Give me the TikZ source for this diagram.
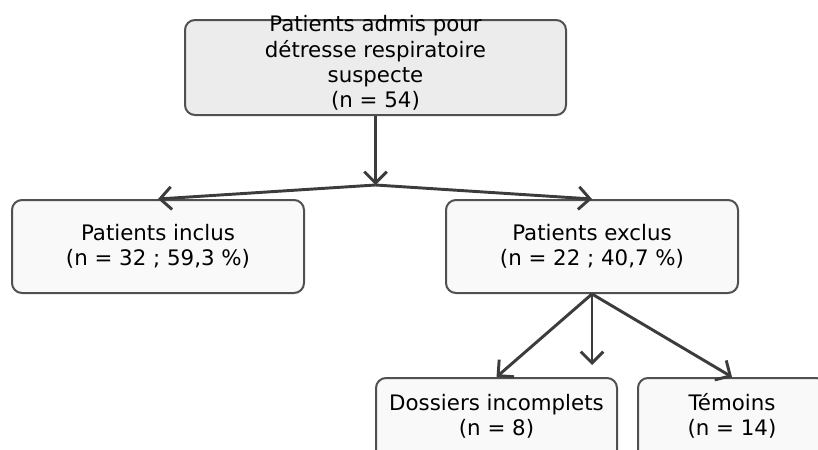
\documentclass[tikz,border=0pt]{standalone}
\usepackage{fontspec}
\setmainfont{DejaVu Sans}
\usepackage{xcolor}
\usetikzlibrary{arrows.meta, positioning}

\definecolor{boxline}{HTML}{505050}
\definecolor{arrowgray}{HTML}{3C3C3C}
\definecolor{topfill}{HTML}{ECECEC}
\definecolor{boxfill}{HTML}{F9F9F9}

\tikzset{
  flowbox/.style={draw=boxline, fill=boxfill, line width=1.5pt, rounded corners=7.5pt,
    minimum height=69.75pt, align=center, inner sep=0pt,
    font=\fontsize{16}{19}\selectfont},
  flowtext/.style={align=center, font=\fontsize{16}{19}\selectfont},
  flowarrow/.style={-{Straight Barb[length=8.5pt, width=17pt]}, line width=2.2pt, arrowgray}
}

\begin{document}
\begin{tikzpicture}[x=0.75pt, y=-0.75pt]
\clip (0,0) rectangle (818,450);

% Top box (text goes past its upper edge)
\node[flowbox, fill=topfill, minimum width=285.75pt, minimum height=71.25pt] (admis) at (375.5,67.5) {};
\node[flowtext] (admistxt) at (375.5,63) {Patients admis pour\\détresse respiratoire\\suspecte\\(n = 54)};

% Second row
\node[flowbox, minimum width=219pt] (inclus) at (158,246.5) {Patients inclus\\(n = 32 ; 59,3 \%)};
\node[flowbox, minimum width=219pt] (exclus) at (592,246.5) {Patients exclus\\(n = 22 ; 40,7 \%)};

% Third row (boxes run past the lower edge)
\node[flowbox, minimum width=180.75pt] (dossiers) at (496.5,424.5) {};
\node[flowtext] (dossierstxt) at (496.5,416) {Dossiers incomplets\\(n = 8)};
\node[flowbox, minimum width=141pt] (temoins) at (732,424.5) {};
\node[flowtext] (temoinstxt) at (732,416) {Témoins\\(n = 14)};

% Arrows
\coordinate (split) at (375.5,185);
\coordinate (midend) at (592,365);
\draw[flowarrow] (admis.south) -- (split);
\draw[flowarrow] (split) -- (inclus.north);
\draw[flowarrow] (split) -- (exclus.north);
\draw[flowarrow] (exclus.south) -- (dossiers.north);
\draw[flowarrow] (exclus.south) -- (midend);
\draw[flowarrow] (exclus.south) -- (temoins.north);
\end{tikzpicture}
\end{document}
